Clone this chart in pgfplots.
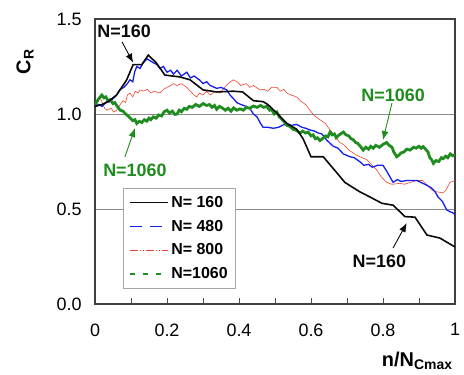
\documentclass[border=0pt]{standalone}
\usepackage{pgfplots}
\pgfplotsset{compat=1.18}
\usetikzlibrary{arrows.meta}
\usepackage{fontspec}
\setmainfont{Liberation Sans}
\definecolor{cblack}{RGB}{10,10,10}
\definecolor{cblue}{RGB}{20,30,240}
\definecolor{cred}{RGB}{240,70,45}
\definecolor{cgreen}{RGB}{30,140,30}
\begin{document}
\begin{tikzpicture}
\begin{axis}[
  name=ax,
  scale only axis, width=360bp, height=285bp,
  xmin=0, xmax=1, ymin=0, ymax=1.5,
  axis line style={black!75, line width=1.1bp},
  xtick={0,0.2,0.4,0.6,0.8,1},
  xticklabels={0,0.2,0.4,0.6,0.8,1},
  minor xtick={0.1,0.3,0.5,0.7,0.9},
  ytick={0,0.5,1,1.5},
  yticklabels={0.0,0.5,1.0,1.5},
  xtick pos=bottom, ytick pos=left,
  tick align=inside,
  major tick length=6bp, minor tick length=6bp,
  xtick style={black!70, line width=0.6bp},
  ytick style={draw=none},
  ymajorgrids, grid style={black!45, line width=0.5bp},
  /pgf/number format/assume math mode=true,
  tick label style={font=\fontsize{18}{20}\selectfont},
  xticklabel style={yshift=-16bp},
  yticklabel style={xshift=-10bp},
  legend style={at={(axis cs:0.078,0.61)}, anchor=north west,
    draw=black!35, line width=0.6bp, fill=white,
    font=\fontsize{16}{18}\selectfont\bfseries,
    row sep=7bp, inner xsep=6bp, inner ysep=6bp},
  legend cell align=left,
  legend image code/.code={\draw[#1] (0bp,0bp) -- (38bp,0bp);},
]
\addlegendimage{cblack, line width=1.4bp}
\addlegendentry{N= 160}
\addlegendimage{cblue, line width=1.4bp, dash pattern=on 12bp off 8bp}
\addlegendentry{N= 480}
\addlegendimage{cred, line width=0.6bp, dash pattern=on 8bp off 2bp on 1bp off 2bp on 1bp off 2bp}
\addlegendentry{N= 800}
\addlegendimage{cgreen, line width=2bp, dash pattern=on 5bp off 8bp}
\addlegendentry{N=1060}

% N=800 red
\addplot[cred, line width=0.6bp, forget plot] coordinates {
(0,1.05)(0.008,1.07)(0.014,1.09)(0.02,1.06)(0.027,1.03)(0.033,1.02)(0.045,1.03)(0.052,1.01)
(0.06,1.02)(0.07,1.05)(0.078,1.07)(0.085,1.06)(0.09,1.10)(0.097,1.11)(0.105,1.09)(0.112,1.12)
(0.12,1.11)(0.125,1.127)(0.135,1.12)(0.145,1.13)(0.155,1.11)(0.165,1.12)(0.18,1.11)(0.19,1.13)
(0.2,1.14)(0.21,1.15)(0.218,1.16)(0.228,1.15)(0.24,1.16)(0.255,1.14)(0.265,1.12)(0.275,1.10)
(0.283,1.09)(0.29,1.11)(0.30,1.10)(0.31,1.12)(0.32,1.10)(0.335,1.12)(0.347,1.11)(0.36,1.14)
(0.37,1.16)(0.384,1.18)(0.395,1.17)(0.405,1.15)(0.42,1.16)(0.43,1.14)(0.44,1.15)(0.458,1.127)
(0.47,1.13)(0.48,1.12)(0.49,1.14)(0.505,1.14)(0.515,1.12)(0.525,1.13)(0.533,1.11)(0.545,1.10)
(0.56,1.09)(0.57,1.07)(0.585,1.05)(0.597,1.02)(0.61,0.99)(0.625,0.97)(0.64,0.95)(0.653,0.916)
(0.665,0.89)(0.68,0.85)(0.69,0.84)(0.705,0.81)(0.717,0.795)(0.73,0.78)(0.742,0.77)(0.755,0.76)
(0.77,0.73)(0.783,0.705)(0.795,0.67)(0.81,0.64)(0.825,0.63)(0.847,0.635)(0.86,0.63)(0.875,0.64)
(0.894,0.65)(0.91,0.65)(0.92,0.63)(0.936,0.60)(0.95,0.59)(0.967,0.585)(0.975,0.60)(0.986,0.64)(1.0,0.65)
};
% N=480 blue
\addplot[cblue, line width=1.3bp, forget plot] coordinates {
(0,1.04)(0.01,1.05)(0.02,1.04)(0.03,1.06)(0.042,1.065)(0.05,1.08)(0.06,1.10)(0.07,1.13)
(0.08,1.14)(0.09,1.16)(0.097,1.18)(0.105,1.17)(0.11,1.22)(0.116,1.25)(0.125,1.24)(0.134,1.27)
(0.145,1.29)(0.153,1.28)(0.162,1.27)(0.172,1.26)(0.18,1.24)(0.19,1.25)(0.2,1.22)(0.21,1.23)
(0.218,1.21)(0.228,1.23)(0.24,1.20)(0.255,1.22)(0.265,1.19)(0.275,1.20)(0.29,1.18)(0.30,1.16)
(0.31,1.17)(0.32,1.15)(0.338,1.135)(0.35,1.14)(0.366,1.127)(0.375,1.10)(0.385,1.08)(0.394,1.06)
(0.405,1.05)(0.42,1.04)(0.43,1.03)(0.44,1.00)(0.45,0.985)(0.46,0.95)(0.467,0.93)(0.48,0.93)
(0.495,0.925)(0.51,0.93)(0.52,0.94)(0.533,0.95)(0.545,0.94)(0.56,0.945)(0.575,0.93)(0.585,0.925)
(0.597,0.916)(0.61,0.91)(0.62,0.90)(0.63,0.895)(0.645,0.86)(0.662,0.83)(0.675,0.82)(0.69,0.79)
(0.708,0.775)(0.72,0.77)(0.735,0.75)(0.747,0.73)(0.76,0.735)(0.77,0.72)(0.785,0.73)(0.80,0.73)
(0.81,0.70)(0.828,0.64)(0.84,0.655)(0.85,0.645)(0.866,0.65)(0.88,0.65)(0.894,0.65)(0.905,0.64)
(0.922,0.625)(0.935,0.61)(0.945,0.59)(0.953,0.563)(0.965,0.54)(0.977,0.495)(0.987,0.485)(0.994,0.48)(1.0,0.47)
};
% N=1060 green
\addplot[cgreen, line width=2.8bp, forget plot] coordinates {
(0,1.047)(0.01,1.08)(0.019,1.10)(0.025,1.085)(0.03,1.09)(0.036,1.07)(0.042,1.075)(0.05,1.055)(0.055,1.06)(0.062,1.04)(0.07,1.02)(0.078,1.015)(0.085,1.00)
(0.092,0.99)(0.097,0.98)(0.105,0.965)(0.111,0.97)(0.116,0.95)(0.123,0.962)(0.13,0.955)(0.137,0.97)(0.144,0.962)(0.15,0.978)(0.155,0.97)(0.162,0.985)(0.17,0.978)(0.177,0.995)(0.185,0.99)
(0.192,1.012)(0.2,1.02)(0.207,1.005)(0.215,1.015)(0.222,0.998)(0.228,1.0)(0.234,1.02)(0.24,1.012)(0.248,1.03)(0.255,1.025)(0.262,1.04)(0.27,1.035)(0.28,1.05)(0.29,1.04)(0.3,1.055)(0.31,1.045)
(0.318,1.05)(0.325,1.035)(0.332,1.045)(0.338,1.025)(0.346,1.04)(0.355,1.03)(0.362,1.02)(0.37,1.03)(0.378,1.015)(0.385,1.032)(0.394,1.02)(0.403,1.027)(0.412,1.02)(0.42,1.035)(0.43,1.03)(0.44,1.042)
(0.45,1.035)(0.46,1.045)(0.468,1.035)(0.477,1.04)(0.485,1.02)(0.49,1.025)(0.498,1.0)(0.505,1.01)(0.512,0.985)(0.52,0.97)(0.527,0.955)(0.533,0.94)(0.541,0.935)(0.55,0.92)(0.558,0.915)(0.57,0.90)
(0.577,0.91)(0.585,0.9)(0.592,0.905)(0.60,0.885)(0.606,0.89)(0.612,0.87)(0.618,0.875)(0.625,0.86)(0.632,0.87)(0.64,0.885)(0.647,0.88)(0.653,0.905)(0.659,0.89)(0.665,0.895)(0.67,0.875)(0.675,0.885)
(0.682,0.895)(0.69,0.905)(0.697,0.89)(0.705,0.885)(0.711,0.87)(0.717,0.865)(0.724,0.85)(0.73,0.845)(0.737,0.83)(0.745,0.81)(0.752,0.825)(0.76,0.815)(0.766,0.83)(0.773,0.82)(0.78,0.835)(0.79,0.825)
(0.8,0.84)(0.81,0.85)(0.817,0.835)(0.825,0.825)(0.83,0.80)(0.838,0.775)(0.845,0.785)(0.85,0.795)(0.858,0.80)(0.866,0.815)(0.875,0.81)(0.885,0.825)(0.892,0.82)(0.9,0.83)(0.906,0.82)(0.911,0.828)
(0.918,0.815)(0.925,0.80)(0.93,0.77)(0.935,0.76)(0.94,0.74)(0.947,0.755)(0.955,0.75)(0.962,0.77)(0.967,0.765)(0.974,0.778)(0.98,0.77)(0.987,0.79)(0.994,0.78)(1.0,0.785)
};
% N=160 black
\addplot[cblack, line width=1.6bp, forget plot] coordinates {
(0,1.04)(0.02,1.05)(0.04,1.07)(0.06,1.10)(0.088,1.18)(0.106,1.26)(0.13,1.26)(0.148,1.31)
(0.17,1.27)(0.194,1.205)(0.236,1.195)(0.264,1.18)(0.30,1.127)(0.338,1.116)(0.384,1.12)(0.41,1.116)
(0.44,1.07)(0.467,1.065)(0.48,1.05)(0.505,1.005)(0.533,0.95)(0.56,0.92)(0.578,0.87)(0.60,0.775)
(0.634,0.775)(0.672,0.69)(0.694,0.64)(0.715,0.615)(0.736,0.59)(0.764,0.563)(0.797,0.53)(0.828,0.52)
(0.861,0.46)(0.889,0.457)(0.922,0.363)(0.958,0.347)(1.0,0.30)
};

% annotations
\node[font=\fontsize{18}{20}\selectfont\bfseries, text=cblack] at (axis cs:0.081,1.437) {N=160};
\draw[-{Latex[length=9bp,width=7bp]}, line width=0.9bp, cblack] (axis cs:0.075,1.38) -- (axis cs:0.106,1.27);
\node[font=\fontsize{18}{20}\selectfont\bfseries, text=cgreen] at (axis cs:0.111,0.705) {N=1060};
\draw[-{Latex[length=9bp,width=7bp]}, line width=0.9bp, cgreen] (axis cs:0.083,0.774) -- (axis cs:0.111,0.926);
\node[font=\fontsize{18}{20}\selectfont\bfseries, text=cgreen] at (axis cs:0.828,1.10) {N=1060};
\draw[-{Latex[length=9bp,width=7bp]}, line width=0.9bp, cgreen] (axis cs:0.825,1.058) -- (axis cs:0.80,0.863);
\node[font=\fontsize{18}{20}\selectfont\bfseries, text=cblack] at (axis cs:0.79,0.226) {N=160};
\draw[-{Latex[length=9bp,width=7bp]}, line width=0.9bp, cblack] (axis cs:0.828,0.295) -- (axis cs:0.866,0.426);
\end{axis}
\node[rotate=90, font=\fontsize{20}{22}\selectfont\bfseries] at ([shift={(-70bp,-43bp)}]ax.north west) {C\raisebox{-0.3ex}{\fontsize{14}{16}\selectfont R}};
\node[font=\fontsize{20}{22}\selectfont\bfseries] at ([shift={(-38bp,-57bp)}]ax.south east) {n/N\raisebox{-0.3ex}{\fontsize{14}{16}\selectfont Cmax}};
\pgfresetboundingbox
\path[use as bounding box] ([shift={(-95bp,-71bp)}]ax.south west) rectangle ([shift={(9bp,19bp)}]ax.north east);
\end{tikzpicture}
\end{document}
